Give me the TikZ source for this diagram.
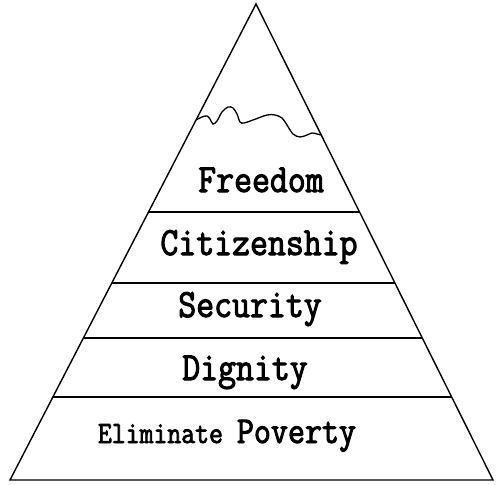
\documentclass[tikz,border=0pt]{standalone}
\usepackage{fontspec}
\usetikzlibrary{calc}
\newfontfamily\typefont{Latin Modern Mono}[FakeStretch=0.87, FakeBold=2.5]

\tikzset{
  edge/.style={line width=1.4pt, line join=miter},
  tier/.style={font=\typefont\fontsize{40}{40}\selectfont, anchor=base, inner sep=0pt}
}

\begin{document}
\begin{tikzpicture}[x=1pt, y=-1pt]
\useasboundingbox (0,0) rectangle (496,485);

% pyramid outline
\coordinate (apex) at (256,4);
\coordinate (baseL) at (10,480);
\coordinate (baseR) at (493,480);
\draw[edge] (apex) -- (baseL) -- (baseR) -- cycle;

% tier lines
\foreach \t in {0.437, 0.5861, 0.7017, 0.8256}
  \draw[edge] ($(apex)!\t!(baseL)$) -- ($(apex)!\t!(baseR)$);

% snow line
\coordinate (snowL) at ($(apex)!0.2437!(baseL)$);
\coordinate (snowR) at ($(apex)!0.2752!(baseR)$);
\draw[line width=1.3pt] plot[smooth, tension=0.55] coordinates {(snowL) (202,117) (207,116) (210,119) (213,124) (217,121) (222,112) (228,107) (233,108) (237,114) (240,122) (244,123) (253,120) (267,115) (275,115) (282,118) (287,125) (293,134) (300,137) (307,135) (312,133) (317,134) (snowR)};

% labels
\node[tier] (freedom) at (261,192) {Freedom};
\node[tier] (citizen) at (259,255) {Citizenship};
\node[tier] (security) at (250,317) {Security};
\node[tier] (dignity) at (245,380) {Dignity};
\node[tier] (poverty) at (227,443) {{\fontsize{31}{31}\selectfont Eliminate}\hspace{-4pt} {\fontsize{38}{38}\selectfont Poverty}};
\end{tikzpicture}
\end{document}
